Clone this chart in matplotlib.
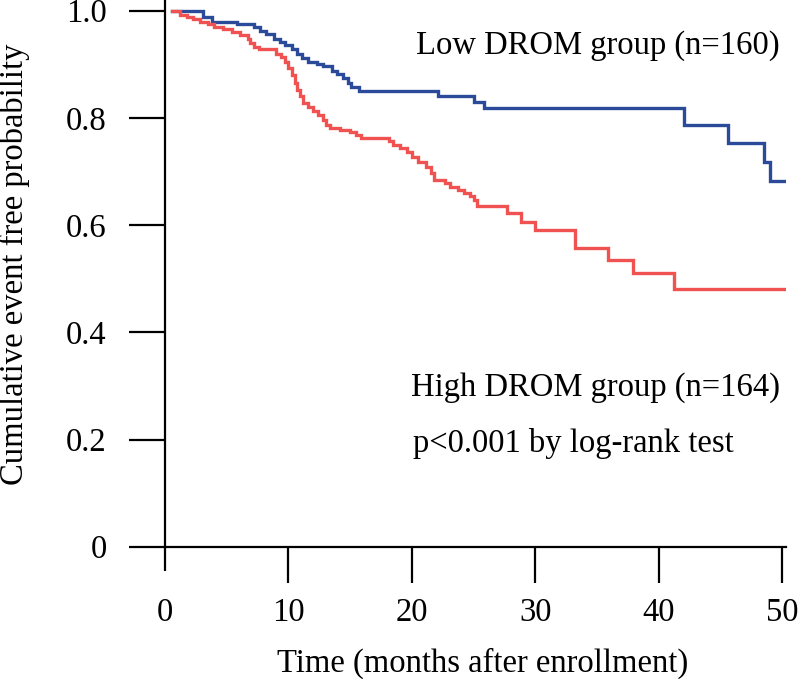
import matplotlib
matplotlib.use("Agg")
import matplotlib.pyplot as plt

# ---- data ----
low_times = [0.6, 3.1, 3.8, 5.8, 7.2, 7.7, 8.2, 8.8, 9.3, 9.7, 10.3, 10.7, 11.1, 11.6,
             12.3, 12.8, 13.5, 13.9, 14.4, 14.8, 15.1, 15.7, 22.1, 25.0, 25.8, 42.0,
             45.6, 48.5, 49.0, 50.1]
low_surv = [1.0, 0.989, 0.979, 0.975, 0.970, 0.963, 0.956, 0.948, 0.942, 0.936, 0.928,
            0.920, 0.911, 0.905, 0.901, 0.896, 0.888, 0.882, 0.874, 0.865, 0.858, 0.851,
            0.841, 0.830, 0.818, 0.787, 0.753, 0.718, 0.683, 0.683]

high_times = [0.6, 1.2, 1.8, 2.3, 2.8, 3.5, 4.0, 4.7, 5.4, 6.1, 6.7, 6.9, 7.2, 7.6, 9.0,
              9.4, 9.7, 10.0, 10.3, 10.5, 10.7, 10.9, 11.2, 11.6, 12.0, 12.4, 12.8, 13.0,
              13.4, 14.2, 15.0, 15.5, 15.9, 18.1, 18.5, 19.0, 19.6, 20.0, 20.5, 21.1,
              21.5, 21.8, 22.7, 23.1, 23.7, 24.2, 24.7, 25.0, 25.3, 27.7, 28.8, 30.0,
              33.2, 35.9, 37.9, 41.2, 50.1]
high_surv = [1.0, 0.992, 0.988, 0.984, 0.979, 0.975, 0.970, 0.965, 0.961, 0.955, 0.948,
             0.939, 0.933, 0.928, 0.920, 0.914, 0.905, 0.893, 0.880, 0.865, 0.852, 0.840,
             0.827, 0.821, 0.812, 0.805, 0.796, 0.787, 0.781, 0.777, 0.774, 0.768, 0.762,
             0.756, 0.749, 0.743, 0.737, 0.728, 0.718, 0.709, 0.697, 0.684, 0.679, 0.672,
             0.665, 0.660, 0.655, 0.647, 0.636, 0.622, 0.606, 0.591, 0.557, 0.535, 0.511,
             0.480, 0.480]

x_ticks = [0, 10, 20, 30, 40, 50]
x_tick_labels = ["0", "10", "20", "30", "40", "50"]
y_ticks = [0, 0.2, 0.4, 0.6, 0.8, 1.0]
y_tick_labels = ["0", "0.2", "0.4", "0.6", "0.8", "1.0"]

low_label = "Low DROM group (n=160)"
high_label = "High DROM group (n=164)"
p_label = "p<0.001 by log-rank test"
x_title = "Time (months after enrollment)"
y_title = "Cumulative event free probability"

# ---- style ----
plt.rcParams["font.family"] = ["Liberation Serif", "DejaVu Serif"]
FS = 23.5
BLUE = "#2c4a9a"
RED = "#f05252"

W, H = 800, 679
fig = plt.figure(figsize=(W / 100, H / 100), dpi=100)
ax = fig.add_axes([165 / W, 1 - 546.7 / H, (786.2 - 165) / W, 546.7 / H])

ax.step(low_times, low_surv, where="post", color=BLUE, lw=2.4, solid_joinstyle="miter")
ax.step(high_times, high_surv, where="post", color=RED, lw=2.4, solid_joinstyle="miter")

ax.set_xlim(0, 50.3)
ax.set_ylim(0, 1.02)

for s in ["top", "right"]:
    ax.spines[s].set_visible(False)
for s in ["left", "bottom"]:
    ax.spines[s].set_linewidth(1.6)
    ax.spines[s].set_color("black")

ax.set_xticks(x_ticks)
ax.set_xticklabels(x_tick_labels, fontsize=FS)
ax.set_yticks(y_ticks)
ax.set_yticklabels(y_tick_labels, fontsize=FS)
tick_len = 36 * 0.72
ax.tick_params(axis="x", direction="out", length=tick_len, width=1.6, pad=11)
ax.tick_params(axis="y", direction="out", length=tick_len, width=1.6, pad=16)
ax.xaxis.get_major_ticks()[0].tick1line.set_markersize(24 * 0.72)

ax.text(49.8, 0.934, low_label, fontsize=FS, ha="right", va="center")
ax.text(49.8, 0.296, high_label, fontsize=FS, ha="right", va="center")
ax.text(20.1, 0.193, p_label, fontsize=FS, ha="left", va="center")

fig.text(483 / W, 1 - 663 / H, x_title, fontsize=FS, ha="center", va="center")
fig.text(14 / W, 1 - 264 / H, y_title, fontsize=FS, ha="center", va="center", rotation=90)

fig.savefig("out.png", dpi=100)
